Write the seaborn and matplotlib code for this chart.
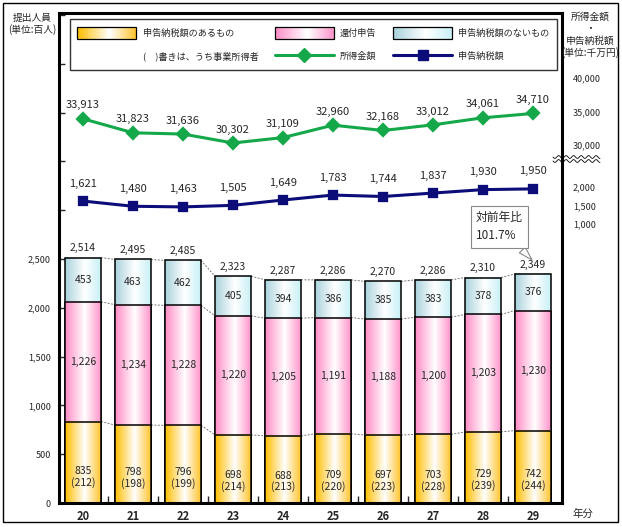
import numpy as np
import pandas as pd
import seaborn as sns
import matplotlib.pyplot as plt
from matplotlib.patches import Rectangle, Patch
from matplotlib.lines import Line2D
from matplotlib.legend_handler import HandlerBase

# data (unit: hundreds of persons / ten-million yen)
years = ['20', '21', '22', '23', '24', '25', '26', '27', '28', '29']
paid = [835, 798, 796, 698, 688, 709, 697, 703, 729, 742]
business = [212, 198, 199, 214, 213, 220, 223, 228, 239, 244]
refund = [1226, 1234, 1228, 1220, 1205, 1191, 1188, 1200, 1203, 1230]
no_tax = [453, 463, 462, 405, 394, 386, 385, 383, 378, 376]
totals = [2514, 2495, 2485, 2323, 2287, 2286, 2270, 2286, 2310, 2349]
income = [33913, 31823, 31636, 30302, 31109, 32960, 32168, 33012, 34061, 34710]
tax = [1621, 1480, 1463, 1505, 1649, 1783, 1744, 1837, 1930, 1950]

df = pd.DataFrame({'year': years, 'paid': paid, 'refund': refund, 'none': no_tax})
df['cum2'] = df['paid'] + df['refund']
df['cum3'] = df['cum2'] + df['none']

sns.set_style('white')
plt.rcParams['font.family'] = ['Noto Sans CJK JP', 'DejaVu Sans']

GREEN = '#14A84A'
NAVY = '#0D0D7A'


def grad(left, right, mid=0.55, n=64):
    c0 = np.array(plt.matplotlib.colors.to_rgb(left))
    c1 = np.array(plt.matplotlib.colors.to_rgb(right))
    t = np.linspace(0, 1, n)
    arr = np.zeros((1, n, 3))
    for k in range(3):
        arr[0, :, k] = np.interp(t, [0, mid, 1], [c0[k], 1.0, c1[k]])
    return arr


g_orange = grad('#FFBE00', '#FFC430')
g_pink = grad('#FF8CC6', '#FF96CC')
g_blue = grad('#A9D3DD', '#C8F0F6')

fig = plt.figure(figsize=(6.22, 5.27), dpi=100)
ax = fig.add_axes([0.0949, 0.0455, 0.8086, 0.9298])

# stacked bars drawn as overlapping cumulative bars
layers = [('cum3', g_blue, 1.0), ('cum2', g_pink, 1.2), ('paid', g_orange, 1.4)]
for col, g, z in layers:
    n0 = len(ax.patches)
    sns.barplot(data=df, x='year', y=col, color='white', width=0.72,
                edgecolor='black', linewidth=1.1, ax=ax, zorder=z + 0.1)
    for p in ax.patches[n0:]:
        x0, y0 = p.get_x(), p.get_y()
        w, h = p.get_width(), p.get_height()
        ax.imshow(g, extent=[x0, x0 + w, y0, y0 + h], aspect='auto',
                  interpolation='bilinear', zorder=z)
        p.set_facecolor('none')

# dashed connectors between bars
bw = 0.36
for col in ['paid', 'cum2', 'cum3']:
    v = df[col].values
    for i in range(len(v) - 1):
        ax.plot([i + bw, i + 1 - bw], [v[i], v[i + 1]], color='#777777',
                lw=0.7, ls=(0, (2, 1.5)), zorder=0.9)

# bar labels
for i in range(len(years)):
    ax.text(i, paid[i] * 0.32, f'{paid[i]:,}\n({business[i]})', ha='center',
            va='center', fontsize=7.5, linespacing=1.1, zorder=5)
    ax.text(i, paid[i] + refund[i] / 2, f'{refund[i]:,}', ha='center',
            va='center', fontsize=7.5, zorder=5)
    ax.text(i, df['cum2'][i] + no_tax[i] / 2, f'{no_tax[i]:,}', ha='center',
            va='center', fontsize=7.5, zorder=5)
    ax.annotate(f'{totals[i]:,}', (i, df['cum3'][i]), xytext=(0, 3),
                textcoords='offset points', ha='center', va='bottom',
                fontsize=7.5, zorder=5)

ax.set_xlim(-0.48, 9.58)
ax.set_ylim(0, 5020)
ax.set_yticks(np.arange(0, 5001, 500))
ax.set_yticklabels([f'{t:,}' if t <= 2500 else '' for t in range(0, 5001, 500)])
ax.set_xlabel('')
ax.set_ylabel('')
ax.tick_params(axis='y', direction='in', length=4, width=1, labelsize=6.5, pad=6,
               left=True)
ax.tick_params(axis='x', which='major', length=0, labelsize=8, pad=5)
for lb in ax.get_xticklabels():
    lb.set_fontweight('bold')
ax.set_xticks(np.arange(0.5, 9, 1), minor=True)
ax.tick_params(axis='x', which='minor', direction='in', length=5, width=1,
               bottom=True)
for s in ax.spines.values():
    s.set_linewidth(2.2)
    s.set_color('black')

# callout
ax.annotate('対前年比\n101.7%', xy=(9.02, 2470), xytext=(7.86, 2830),
            fontsize=8.5, ha='left', va='center', linespacing=1.5,
            bbox=dict(boxstyle='square,pad=0.45', fc='white', ec='#888888', lw=0.8),
            arrowprops=dict(arrowstyle='wedge,tail_width=0.7,shrink_factor=0.5',
                            fc='white', ec='#888888', lw=0.8,
                            connectionstyle='arc3,rad=0'),
            zorder=7)

# income line (upper right scale)
ax_inc = ax.twinx()
sns.pointplot(x=years, y=income, color=GREEN, markers='D', markersize=6,
              linewidth=2.2, ax=ax_inc, zorder=6)
ax_inc.set_ylim(-23433, 49701)
ax_inc.set_yticks([30000, 35000, 40000])
ax_inc.set_yticklabels(['30,000', '35,000', '40,000'])
for i, v in enumerate(income):
    ax_inc.annotate(f'{v:,}', (i, v), xytext=(0, 6), textcoords='offset points',
                    ha='center', va='bottom', fontsize=8)

# tax line (lower right scale)
ax_tax = ax.twinx()
sns.pointplot(x=years, y=tax, color=NAVY, markers='s', markersize=6,
              linewidth=2.2, ax=ax_tax, zorder=6)
ax_tax.set_ylim(-6540, 6703)
ax_tax.set_yticks([1000, 1500, 2000])
ax_tax.set_yticklabels(['1,000', '1,500', '2,000'])
for i, v in enumerate(tax):
    ax_tax.annotate(f'{v:,}', (i, v), xytext=(0, 9), textcoords='offset points',
                    ha='center', va='bottom', fontsize=8)

for a in (ax_inc, ax_tax):
    a.set_xlim(-0.48, 9.58)
    a.set_ylabel('')
    a.set_xlabel('')
    a.tick_params(axis='y', length=0, labelsize=6.5, pad=8)
    for s in a.spines.values():
        s.set_visible(False)
    a.patch.set_visible(False)


# legend
class GradientHandler(HandlerBase):
    def __init__(self, arr):
        super().__init__()
        self.arr = arr

    def create_artists(self, legend, orig_handle, xdescent, ydescent, width,
                       height, fontsize, trans):
        n = self.arr.shape[1]
        out = []
        for i in range(n):
            out.append(Rectangle((-xdescent + width * i / n, -ydescent),
                                 width / n * 1.05, height, fc=self.arr[0, i],
                                 ec='none', transform=trans))
        out.append(Rectangle((-xdescent, -ydescent), width, height, fc='none',
                             ec='black', lw=0.9, transform=trans))
        return out


h1 = Patch(label='申告納税額のあるもの')
h2 = Patch(label='還付申告')
h3 = Patch(label='申告納税額のないもの')
hb = Patch(fc='none', ec='none', label='(　)書きは、うち事業所得者')
hg = Line2D([], [], color=GREEN, marker='D', markersize=7, lw=2.2, label='所得金額')
hn = Line2D([], [], color=NAVY, marker='s', markersize=7, lw=2.2, label='申告納税額')
leg = ax_tax.legend(handles=[h1, hb, h2, hg, h3, hn], ncol=3, loc='upper left',
                    bbox_to_anchor=(0.022, 0.987, 0.968, 0), mode='expand',
                    borderaxespad=0, fontsize=6.6, handlelength=6.4,
                    handleheight=1.65, labelspacing=1.25, handletextpad=0.7,
                    frameon=True, fancybox=False, edgecolor='black',
                    borderpad=0.8,
                    handler_map={h1: GradientHandler(g_orange),
                                 h2: GradientHandler(g_pink),
                                 h3: GradientHandler(g_blue)})
leg.get_frame().set_linewidth(1.0)
leg.set_zorder(10)

# axis captions and decorations
W, H = 622, 527
fig.text(32 / W, 1 - 18 / H, '提出人員', ha='center', va='center', fontsize=7)
fig.text(32 / W, 1 - 30 / H, '(単位:百人)', ha='center', va='center', fontsize=7)
fig.text(590 / W, 1 - 17 / H, '所得金額', ha='center', va='center', fontsize=7)
fig.text(590 / W, 1 - 29 / H, '・', ha='center', va='center', fontsize=7)
fig.text(590 / W, 1 - 41 / H, '申告納税額', ha='center', va='center', fontsize=7)
fig.text(590 / W, 1 - 53 / H, '(単位:千万円)', ha='center', va='center', fontsize=7)
fig.text(583 / W, 1 - 514 / H, '年分', ha='center', va='center', fontsize=7.5)

xs = np.linspace(553, 600, 80)
for yc in (157, 161):
    ys = yc + 1.4 * np.sin((xs - 553) / 7.5 * 2 * np.pi)
    fig.add_artist(Line2D(xs / W, 1 - ys / H, color='black', lw=0.6))

fig.add_artist(Rectangle((3 / W, 1 - 522 / H), 615 / W, 519 / H, fill=False,
                         ec='black', lw=1.0, transform=fig.transFigure))

fig.savefig('out.png', dpi=100)
